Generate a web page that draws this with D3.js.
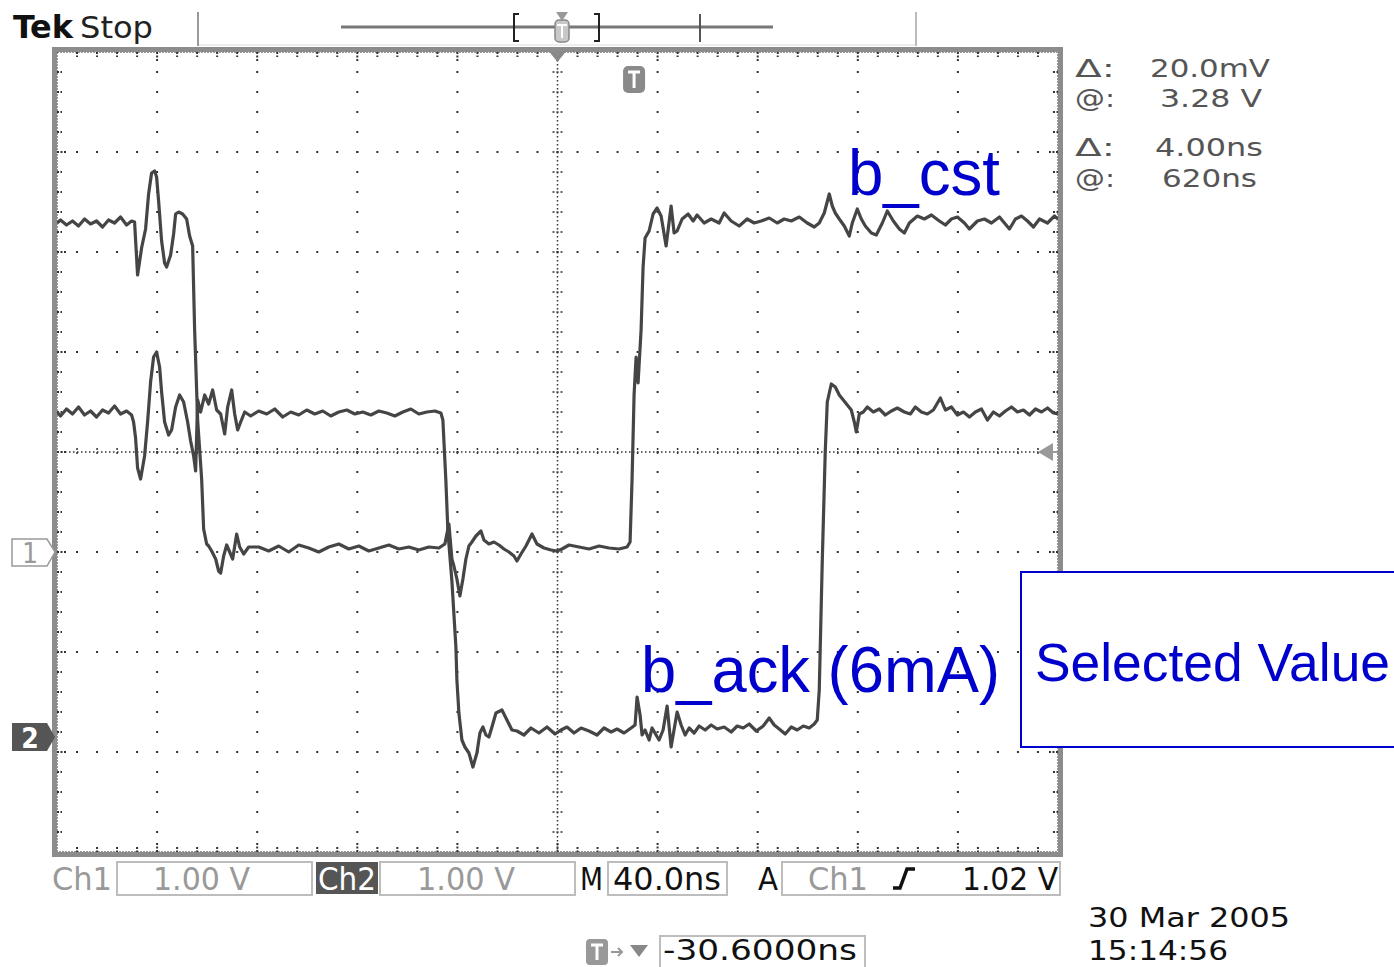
<!DOCTYPE html>
<html><head><meta charset="utf-8">
<script src="https://cdn.jsdelivr.net/npm/d3@7"></script>
<style>body{margin:0;background:#fff}svg{display:block}</style>
</head><body>
<script>
// ---- data (time in ns relative to trigger, volts) ----
const ch1Samples = [[-230.6,3.29],[-229.2,3.32],[-226.8,3.27],[-224.4,3.31],[-222.0,3.26],[-219.6,3.33],[-217.2,3.28],[-214.8,3.31],[-212.4,3.25],[-210.0,3.32],[-207.6,3.29],[-205.2,3.35],[-202.8,3.27],[-200.8,3.31],[-199.6,3.30],[-198.4,2.77],[-196.8,3.04],[-195.2,3.23],[-194.0,3.58],[-192.8,3.79],[-191.6,3.81],[-190.8,3.75],[-190.0,3.51],[-188.8,3.11],[-187.6,2.89],[-186.8,2.85],[-185.2,2.97],[-184.0,3.18],[-183.2,3.38],[-182.0,3.40],[-180.4,3.38],[-178.8,3.33],[-177.6,3.16],[-176.4,3.06],[-175.6,2.22],[-174.4,1.32],[-172.8,0.73],[-172.0,0.23],[-170.8,0.08],[-170.0,0.06],[-168.8,0.01],[-167.2,-0.07],[-166.0,-0.19],[-165.2,-0.21],[-164.0,-0.04],[-162.8,0.07],[-161.6,0.00],[-160.4,-0.07],[-158.8,0.18],[-157.6,0.05],[-156.0,-0.02],[-154.0,0.05],[-150.0,0.05],[-146.0,0.01],[-142.0,0.06],[-138.0,0.00],[-134.0,0.07],[-130.0,0.04],[-126.0,0.00],[-122.0,0.05],[-118.0,0.08],[-114.0,0.03],[-110.0,0.06],[-106.0,0.01],[-102.0,0.04],[-98.0,0.07],[-94.0,0.03],[-90.0,0.05],[-86.0,0.02],[-82.0,0.05],[-78.0,0.04],[-75.6,0.08],[-74.0,0.28],[-72.8,-0.07],[-72.0,-0.14],[-70.8,-0.27],[-69.6,-0.44],[-68.4,-0.27],[-67.2,-0.07],[-66.0,0.06],[-64.8,0.10],[-63.2,0.16],[-61.2,0.21],[-60.0,0.12],[-58.0,0.08],[-56.0,0.10],[-54.0,0.07],[-52.0,0.03],[-50.0,0.00],[-48.0,-0.04],[-46.8,-0.09],[-45.2,-0.02],[-43.2,0.06],[-40.8,0.18],[-38.8,0.08],[-36.0,0.04],[-33.2,0.02],[-30.8,0.01],[-28.8,0.03],[-26.0,0.07],[-22.0,0.05],[-18.0,0.03],[-14.0,0.06],[-10.0,0.04],[-6.0,0.03],[-2.8,0.05],[-1.6,0.10],[-0.8,0.73],[0.0,1.57],[0.8,1.95],[1.6,1.69],[2.8,2.22],[3.6,2.85],[4.4,3.14],[6.0,3.21],[7.6,3.38],[9.2,3.44],[10.8,3.36],[12.8,3.06],[14.8,3.46],[16.0,3.19],[17.2,3.21],[19.2,3.33],[21.6,3.38],[23.6,3.31],[25.2,3.37],[28.0,3.29],[30.8,3.33],[34.0,3.29],[36.0,3.39],[38.8,3.31],[42.0,3.26],[45.2,3.33],[48.0,3.29],[50.8,3.31],[54.0,3.34],[57.2,3.29],[60.0,3.33],[62.8,3.31],[66.0,3.35],[69.2,3.29],[72.0,3.25],[74.0,3.29],[76.0,3.39],[78.0,3.58],[79.2,3.46],[80.4,3.39],[82.0,3.33],[84.0,3.26],[86.0,3.16],[87.2,3.29],[89.2,3.43],[90.8,3.33],[92.4,3.26],[94.8,3.19],[96.8,3.17],[99.2,3.29],[101.2,3.41],[103.6,3.31],[106.0,3.23],[108.0,3.19],[110.0,3.29],[113.2,3.36],[116.0,3.33],[118.8,3.37],[122.0,3.31],[124.4,3.27],[126.8,3.33],[129.2,3.35],[132.0,3.29],[134.0,3.23],[137.2,3.31],[140.0,3.33],[142.8,3.29],[146.0,3.35],[148.0,3.29],[150.0,3.23],[152.4,3.33],[154.8,3.36],[157.2,3.31],[159.6,3.25],[162.0,3.33],[165.2,3.29],[168.0,3.36],[169.4,3.33]];

const ch2Samples = [[-230.6,3.25],[-229.2,3.21],[-226.8,3.28],[-224.4,3.23],[-222.0,3.30],[-219.6,3.22],[-217.2,3.26],[-214.8,3.20],[-212.4,3.27],[-210.0,3.24],[-207.6,3.31],[-205.2,3.23],[-202.8,3.26],[-200.8,3.22],[-200.0,3.15],[-199.2,2.99],[-198.4,2.69],[-197.2,2.58],[-195.6,2.81],[-194.4,3.15],[-193.2,3.55],[-192.0,3.80],[-190.8,3.85],[-189.6,3.70],[-188.8,3.45],[-187.6,3.15],[-186.0,3.02],[-184.8,3.07],[-183.2,3.30],[-181.6,3.42],[-180.0,3.35],[-178.4,3.15],[-177.2,2.96],[-176.0,2.81],[-175.2,2.66],[-174.4,3.37],[-173.2,3.25],[-171.6,3.42],[-170.0,3.33],[-168.4,3.47],[-166.8,3.27],[-165.2,3.23],[-163.6,3.03],[-162.4,3.30],[-160.8,3.47],[-159.6,3.23],[-158.4,3.07],[-157.2,3.15],[-155.6,3.25],[-153.2,3.21],[-150.0,3.26],[-146.8,3.23],[-143.6,3.28],[-140.4,3.20],[-137.2,3.25],[-134.0,3.22],[-130.8,3.27],[-127.6,3.23],[-124.4,3.26],[-121.2,3.21],[-118.0,3.25],[-114.8,3.27],[-111.6,3.23],[-108.4,3.25],[-105.2,3.22],[-102.0,3.26],[-98.8,3.24],[-95.6,3.21],[-92.4,3.25],[-89.2,3.28],[-86.0,3.23],[-82.8,3.25],[-79.6,3.26],[-77.2,3.24],[-76.4,3.17],[-75.2,2.56],[-74.4,2.06],[-72.8,1.56],[-72.0,1.23],[-71.2,0.90],[-70.8,0.57],[-70.0,0.24],[-68.8,-0.03],[-67.6,-0.10],[-66.0,-0.16],[-64.4,-0.30],[-62.8,-0.16],[-61.6,0.04],[-60.4,0.10],[-59.2,0.02],[-58.0,0.00],[-56.8,0.10],[-55.2,0.24],[-52.8,0.27],[-50.8,0.17],[-48.8,0.07],[-46.8,0.06],[-44.0,0.02],[-41.2,0.09],[-38.0,0.04],[-34.8,0.10],[-31.6,0.03],[-29.2,0.07],[-26.8,0.10],[-24.0,0.04],[-21.2,0.09],[-18.0,0.06],[-14.8,0.02],[-12.0,0.09],[-9.2,0.05],[-6.8,0.08],[-4.0,0.04],[-1.2,0.09],[0.4,0.12],[1.2,0.40],[2.4,0.22],[3.2,0.02],[4.4,0.07],[6.0,-0.03],[7.2,0.09],[8.8,0.02],[10.0,-0.03],[11.6,0.07],[13.2,0.31],[14.8,-0.10],[17.2,0.25],[18.8,0.12],[20.4,0.02],[22.0,0.09],[24.0,0.04],[26.0,0.11],[28.4,0.07],[30.8,0.12],[33.2,0.08],[36.0,0.10],[38.8,0.05],[41.2,0.11],[43.6,0.09],[46.0,0.13],[48.8,0.06],[51.6,0.11],[54.0,0.19],[56.0,0.12],[58.0,0.08],[60.4,0.03],[62.8,0.10],[65.2,0.07],[67.6,0.11],[70.0,0.09],[72.0,0.13],[73.2,0.17],[74.0,0.47],[75.2,1.76],[76.4,2.86],[77.2,3.35],[78.8,3.53],[80.4,3.50],[82.0,3.42],[83.6,3.37],[85.2,3.32],[86.8,3.27],[88.0,3.15],[88.8,3.05],[90.0,3.23],[91.6,3.25],[93.2,3.30],[95.6,3.25],[98.0,3.28],[100.4,3.22],[102.8,3.26],[105.2,3.29],[108.0,3.25],[110.4,3.23],[112.4,3.30],[114.8,3.25],[117.2,3.23],[119.6,3.27],[122.4,3.39],[124.4,3.27],[126.8,3.30],[129.2,3.22],[131.6,3.25],[134.0,3.20],[136.4,3.25],[138.8,3.28],[141.2,3.17],[143.6,3.25],[146.0,3.21],[148.4,3.26],[150.8,3.30],[153.2,3.25],[155.6,3.27],[158.0,3.22],[160.4,3.28],[162.8,3.25],[165.2,3.29],[167.6,3.24],[169.4,3.23]];

const timeDivisions = [-230.6,-190.6,-150.6,-110.6,-70.6,-30.6,9.4,49.4,89.4,129.4,169.4];
const screenDivisions = [-4,-3,-2,-1,0,1,2,3,4];
const channelOffsets = {ch1:-1, ch2:-2.85}; // divisions
const readoutLabels = ["Δ:","@:","Δ:","@:"];
const readoutValues = ["20.0mV","3.28 V","4.00ns","620ns"];
const seriesNames = ["b_cst","b_ack (6mA)"];
const calloutText = "Selected Value";

// ---- drawing ----
const W=1394,H=967;
const svg=d3.select("body").append("svg").attr("width",W).attr("height",H);
const L=57,R=1058,T=52,B=852;
const x=d3.scaleLinear().domain([timeDivisions[0],timeDivisions[10]]).range([L,R]);
const y=d3.scaleLinear().domain([-4,4]).range([B,T]);
const condensed="'DejaVu Sans Condensed','Liberation Sans Narrow','DejaVu Sans',sans-serif";
const arial="'Liberation Sans',Arial,sans-serif";

function txt(g,s,px,py,size,fill,len,opts={}){
  const t=g.append("text").attr("x",px).attr("y",py).text(s)
    .attr("font-family",opts.family||condensed).attr("font-size",size).attr("fill",fill);
  if(opts.weight) t.attr("font-weight",opts.weight);
  if(opts.anchor) t.attr("text-anchor",opts.anchor);
  if(len) t.attr("textLength",len).attr("lengthAdjust","spacingAndGlyphs");
  return t;
}

// header
const hdr=svg.append("g");
txt(hdr,"Tek",13,38,32,"#111",60,{weight:"bold"});
txt(hdr,"Stop",80,38,30,"#222",73);
hdr.append("line").attr("x1",198).attr("x2",916).attr("y1",45).attr("y2",45).attr("stroke","#ddd");
hdr.append("line").attr("x1",198).attr("x2",198).attr("y1",12).attr("y2",46).attr("stroke","#999").attr("stroke-width",2);
hdr.append("line").attr("x1",916).attr("x2",916).attr("y1",12).attr("y2",46).attr("stroke","#bbb").attr("stroke-width",2);
hdr.append("line").attr("x1",341).attr("x2",773).attr("y1",27).attr("y2",27).attr("stroke","#777").attr("stroke-width",3);
hdr.append("path").attr("d","M519,14 h-5 v27 h5 M594,14 h5 v27 h-5").attr("fill","none").attr("stroke","#222").attr("stroke-width",2);
hdr.append("line").attr("x1",700).attr("x2",700).attr("y1",14).attr("y2",42).attr("stroke","#555").attr("stroke-width",2);
hdr.append("rect").attr("x",555).attr("y",20).attr("width",14).attr("height",22).attr("rx",4).attr("fill","#c8c8c8").attr("stroke","#888").attr("stroke-width",1.5);
hdr.append("path").attr("d","M557,25 h10 M562,25 v13").attr("stroke","#fff").attr("stroke-width",2);
hdr.append("path").attr("d","M556,12 L568,12 L562,21 Z").attr("fill","#999");

// plot frame
const plot=svg.append("g");
plot.append("rect").attr("x",54.5).attr("y",49.5).attr("width",1006).attr("height",805)
  .attr("fill","#fff").attr("stroke","#8c8c8c").attr("stroke-width",5);
plot.append("rect").attr("x",L+0.5).attr("y",T+0.5).attr("width",R-L-1).attr("height",B-T-1)
  .attr("fill","none").attr("stroke","#333").attr("stroke-width",1).attr("stroke-dasharray","1,2");

// graticule
const grid=plot.append("g").attr("fill","#333");
const minorX=d3.range(0,51).map(k=>timeDivisions[0]+k*8);
const minorY=d3.range(0,41).map(k=>-4+k*0.2);
const centerT=timeDivisions[5];
timeDivisions.slice(1,-1).forEach(t=>{
  if(t===centerT) return;
  minorY.slice(1,-1).forEach(v=>grid.append("rect").attr("x",x(t)-1).attr("y",y(v)-1).attr("width",2).attr("height",2));
});
screenDivisions.slice(1,-1).forEach(v=>{
  if(v===0) return;
  minorX.slice(1,-1).forEach(t=>grid.append("rect").attr("x",x(t)-1).attr("y",y(v)-1).attr("width",2).attr("height",2));
});
// center crosshair
plot.append("line").attr("x1",L).attr("x2",R).attr("y1",y(0)).attr("y2",y(0)).attr("stroke","#333").attr("stroke-width",1.5).attr("stroke-dasharray","1.5,2.5");
plot.append("line").attr("x1",x(centerT)).attr("x2",x(centerT)).attr("y1",T).attr("y2",B).attr("stroke","#333").attr("stroke-width",1.5).attr("stroke-dasharray","1.5,2.5");
minorX.slice(1,-1).forEach(t=>plot.append("line").attr("x1",x(t)).attr("x2",x(t)).attr("y1",y(0)-4).attr("y2",y(0)+4).attr("stroke","#333").attr("stroke-width",1.5).attr("stroke-dasharray","2,2"));
minorY.slice(1,-1).forEach(v=>plot.append("line").attr("x1",x(centerT)-5).attr("x2",x(centerT)+5).attr("y1",y(v)).attr("y2",y(v)).attr("stroke","#333").attr("stroke-width",1.5).attr("stroke-dasharray","2,2"));
// edge ticks
minorY.slice(1,-1).forEach((v,i)=>{
  const len=(Math.abs(v-Math.round(v))<1e-6)?9:5;
  plot.append("line").attr("x1",L).attr("x2",L+len).attr("y1",y(v)).attr("y2",y(v)).attr("stroke","#333").attr("stroke-width",2).attr("stroke-dasharray","2,1.5");
  plot.append("line").attr("x1",R-len).attr("x2",R).attr("y1",y(v)).attr("y2",y(v)).attr("stroke","#333").attr("stroke-width",2).attr("stroke-dasharray","2,1.5");
});
minorX.slice(1,-1).forEach((t,i)=>{
  const len=((i+1)%5===0)?9:5;
  plot.append("line").attr("x1",x(t)).attr("x2",x(t)).attr("y1",T).attr("y2",T+len).attr("stroke","#333").attr("stroke-width",2).attr("stroke-dasharray","2,1.5");
  plot.append("line").attr("x1",x(t)).attr("x2",x(t)).attr("y1",B-len).attr("y2",B).attr("stroke","#333").attr("stroke-width",2).attr("stroke-dasharray","2,1.5");
});

// traces
svg.append("clipPath").attr("id","clip").append("rect").attr("x",L).attr("y",T).attr("width",R-L).attr("height",B-T);
const line=off=>d3.line().x(d=>x(d[0])).y(d=>y(d[1]+off));
const traces=svg.append("g").attr("clip-path","url(#clip)");
[[ch1Samples,channelOffsets.ch1],[ch2Samples,channelOffsets.ch2]].forEach(([s,off])=>{
  traces.append("path").datum(s).attr("d",line(off)).attr("fill","none").attr("stroke","#454545")
    .attr("stroke-width",3.2).attr("stroke-linejoin","round");
});

// markers
svg.append("path").attr("d",`M${x(centerT)-8},${T} L${x(centerT)+8},${T} L${x(centerT)},${T+10} Z`).attr("fill","#888");
const tx=x(0);
svg.append("rect").attr("x",tx-11).attr("y",66).attr("width",22).attr("height",27).attr("rx",5).attr("fill","#8a8a8a");
svg.append("path").attr("d",`M${tx-6},72 h12 M${tx},72 v16`).attr("stroke","#fff").attr("stroke-width",3);
svg.append("path").attr("d",`M${R-20},${y(0)} L${R-5},${y(0)-9} L${R-5},${y(0)+9} Z`).attr("fill","#999");
svg.append("line").attr("x1",R-5).attr("x2",R).attr("y1",y(0)).attr("y2",y(0)).attr("stroke","#999").attr("stroke-width",2);
const y1m=y(channelOffsets.ch1), y2m=y(channelOffsets.ch2);
svg.append("path").attr("d",`M12,${y1m-13} H47 L55,${y1m} L47,${y1m+14} H12 Z`).attr("fill","#fff").attr("stroke","#999").attr("stroke-width",1.5);
txt(svg,"1",30,y1m+11,28,"#999",null,{anchor:"middle"});
svg.append("path").attr("d",`M12,${y2m-14} H47 L55,${y2m} L47,${y2m+14} H12 Z`).attr("fill","#555");
txt(svg,"2",30,y2m+11,28,"#fff",null,{anchor:"middle",weight:"bold"});

// readouts
const rg=svg.append("g");
const rY=[77,107,156,187], vX=[1150,1160,1155,1162], vL=[120,102,108,95];
readoutLabels.forEach((s,i)=>{
  txt(rg,s,1075,rY[i],25,"#555",40,{family:"'DejaVu Sans',sans-serif"});
  txt(rg,readoutValues[i],vX[i],rY[i],25,"#555",vL[i],{family:"'DejaVu Sans',sans-serif"});
});

// bottom status bar
const bb=svg.append("g");
function box(px,py,w,h){bb.append("rect").attr("x",px).attr("y",py).attr("width",w).attr("height",h).attr("fill","none").attr("stroke","#bdbdbd").attr("stroke-width",2);}
box(117,862,195,33); box(380,862,195,33); box(608,862,119,33); box(782,862,278,33);
txt(bb,"Ch1",52,890,32,"#999",60);
txt(bb,"1.00 V",153,890,32,"#999",97);
bb.append("rect").attr("x",316).attr("y",862).attr("width",62).attr("height",32).attr("fill","#555");
txt(bb,"Ch2",318,890,32,"#fff",58);
txt(bb,"1.00 V",417,890,32,"#999",98);
txt(bb,"M",580,890,32,"#111",23);
txt(bb,"40.0ns",613,890,32,"#111",108);
txt(bb,"A",758,890,32,"#111",20);
txt(bb,"Ch1",808,890,32,"#999",60);
bb.append("path").attr("d","M893,888 H900 L907,869 H915").attr("fill","none").attr("stroke","#111").attr("stroke-width",3.5);
txt(bb,"1.02 V",962,890,32,"#111",96);
txt(bb,"30 Mar  2005",1088,927,27,"#111",202);
txt(bb,"15:14:56",1088,960,27,"#111",140);
bb.append("rect").attr("x",586).attr("y",939).attr("width",22).attr("height",26).attr("rx",4).attr("fill","#999");
bb.append("path").attr("d","M591,945 h12 M597,945 v15").attr("stroke","#fff").attr("stroke-width",3);
bb.append("path").attr("d","M611,952 h11 M618,948 l4,4 l-4,4").attr("fill","none").attr("stroke","#999").attr("stroke-width",2);
bb.append("path").attr("d","M630,945 L648,945 L639,957 Z").attr("fill","#888");
box(660,936,205,32);
txt(bb,"-30.6000ns",663,960,28,"#111",194);

// annotations
const ann=svg.append("g");
txt(ann,seriesNames[0],848,195,64,"#0000cc",152,{family:arial});
txt(ann,seriesNames[1],641,692,64,"#0000cc",359,{family:arial});
ann.append("rect").attr("x",1021).attr("y",572).attr("width",380).attr("height",175).attr("fill","#fff").attr("stroke","#0000cc").attr("stroke-width",2);
txt(ann,calloutText,1035,681,54,"#0000cc",355,{family:arial});
</script>
</body></html>
